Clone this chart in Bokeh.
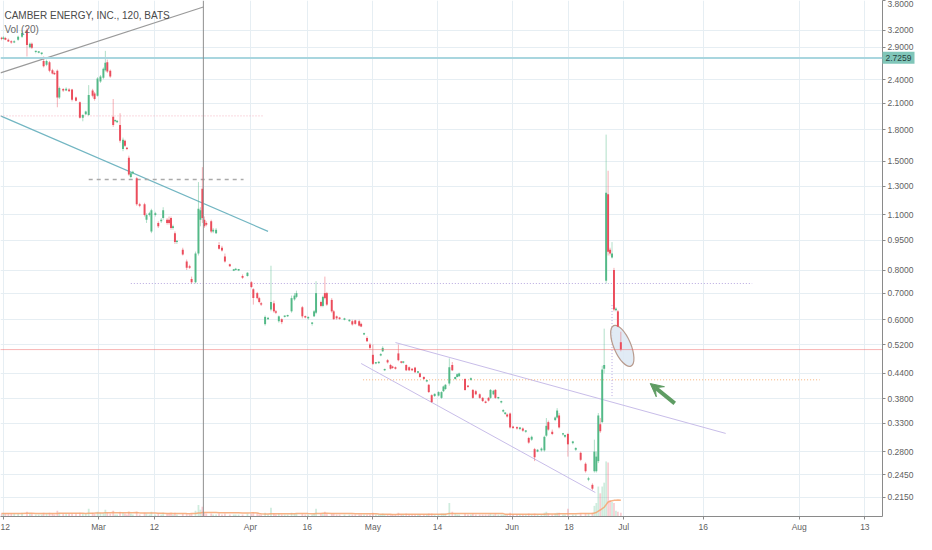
import math
import pandas as pd
from bokeh.plotting import figure
from bokeh.models import (Range1d, FixedTicker, PrintfTickFormatter, Span, Label,
                          Arrow, VeeHead, LinearScale, GridBox)
from bokeh.embed import file_html
from bokeh.resources import INLINE

# ---------------- data (bar time index, OHLC in USD, volume in M shares) -------------
t = [1, 3, 5, 8, 11, 14, 18, 22, 27, 30,
     32, 36, 39, 42, 44, 47, 50, 53, 55, 58,
     60, 64, 67, 70, 73, 77, 81, 84, 87, 90,
     94, 96, 99, 102, 105, 107, 109, 112, 115, 117,
     119, 122, 125, 127, 129, 131, 133, 135, 139, 142,
     147, 149, 152, 154, 158, 161, 164, 166, 170, 172,
     174, 176, 178, 180, 186, 190, 193, 195, 199, 202,
     204, 206, 208, 210, 215, 217, 220, 223, 226, 229,
     234, 238, 240, 243, 247, 252, 256, 258, 262, 264,
     266, 270, 273, 276, 279, 281, 284, 287, 290, 293,
     297, 300, 302, 308, 311, 314, 318, 320, 322, 327,
     329, 331, 333, 338, 340, 343, 346, 351, 356, 359,
     362, 366, 368, 371, 374, 377, 380, 383, 386, 388,
     390, 392, 395, 398, 400, 403, 406, 409, 411, 414,
     417, 420, 423, 426, 428, 432, 435, 437, 440, 443,
     447, 450, 452, 454, 458, 461, 464, 466, 468, 474,
     477, 480, 482, 485, 489, 492, 495, 498, 500, 503,
     505, 508, 511, 513, 515, 517, 520, 523, 527, 530,
     533, 536, 539, 542, 545, 548, 552, 555, 557, 559,
     563, 566, 568, 570, 574, 576, 579, 584, 587, 592,
     597, 600, 604, 606, 608, 610, 612, 614, 616, 618,
     620, 622, 624, 626, 628, 630, 633]

op = [3.05, 3.04, 3.06, 3.03, 3.00, 2.98, 3.03, 3.08, 3.20, 2.90,
      2.96, 2.82, 2.81, 2.79, 2.68, 2.62, 2.66, 2.54, 2.50, 2.53,
      2.17, 2.27, 2.26, 2.27, 2.27, 2.17, 2.11, 1.93, 1.97, 1.96,
      2.26, 2.22, 2.19, 2.38, 2.43, 2.54, 2.66, 2.53, 1.94, 1.89,
      1.88, 1.85, 1.61, 1.69, 1.62, 1.53, 1.37, 1.40, 1.36, 1.17,
      1.17, 1.07, 1.10, 1.00, 1.10, 1.05, 1.06, 1.08, 1.07, 1.07,
      1.08, 1.02, 0.99, 0.94, 0.90, 0.84, 0.818, 0.76, 0.745, 0.88,
      1.07, 1.28, 1.07, 1.05, 1.06, 1.00, 0.99, 0.925, 0.91, 0.865,
      0.827, 0.797, 0.80, 0.798, 0.773, 0.773, 0.745, 0.716, 0.70, 0.68,
      0.66, 0.585, 0.602, 0.637, 0.66, 0.63, 0.595, 0.602, 0.61, 0.612,
      0.63, 0.675, 0.685, 0.645, 0.612, 0.605, 0.586, 0.612, 0.625, 0.665,
      0.65, 0.70, 0.70, 0.673, 0.63, 0.612, 0.607, 0.60, 0.595, 0.595,
      0.598, 0.595, 0.586, 0.551, 0.54, 0.52, 0.49, 0.466, 0.467, 0.488,
      0.50, 0.448, 0.475, 0.462, 0.458, 0.456, 0.494, 0.47, 0.468, 0.462,
      0.456, 0.452, 0.455, 0.442, 0.44, 0.431, 0.42, 0.412, 0.388, 0.386,
      0.387, 0.382, 0.397, 0.402, 0.415, 0.462, 0.426, 0.431, 0.433, 0.426,
      0.408, 0.424, 0.40, 0.397, 0.39, 0.382, 0.374, 0.382, 0.382, 0.39,
      0.40, 0.381, 0.372, 0.353, 0.348, 0.347, 0.349, 0.323, 0.321, 0.319,
      0.32, 0.314, 0.303, 0.30, 0.284, 0.28, 0.282, 0.282, 0.307, 0.332,
      0.314, 0.336, 0.341, 0.345, 0.309, 0.305, 0.31, 0.294, 0.283, 0.278,
      0.261, 0.238, 0.231, 0.25, 0.25, 0.265, 0.328, 0.332, 0.452, 0.752,
      1.24, 0.90, 0.86, 0.80, 0.634, 0.63, 0.527]

hi = [3.08, 3.09, 3.08, 3.05, 3.02, 3.02, 3.10, 3.20, 3.24, 2.98,
      2.98, 2.84, 2.83, 2.81, 2.75, 2.70, 2.68, 2.56, 2.52, 2.55,
      2.31, 2.29, 2.30, 2.29, 2.28, 2.18, 2.12, 1.97, 2.01, 2.33,
      2.28, 2.24, 2.44, 2.47, 2.58, 2.84, 2.70, 2.55, 2.15, 1.91,
      1.90, 1.98, 1.72, 1.70, 1.63, 1.55, 1.41, 1.42, 1.37, 1.18,
      1.18, 1.11, 1.12, 1.14, 1.12, 1.06, 1.08, 1.15, 1.08, 1.09,
      1.09, 1.04, 1.00, 0.95, 0.91, 0.85, 0.825, 0.77, 0.89, 1.33,
      1.15, 1.45, 1.09, 1.06, 1.07, 1.02, 1.02, 0.94, 0.92, 0.88,
      0.83, 0.805, 0.81, 0.805, 0.78, 0.79, 0.75, 0.72, 0.705, 0.685,
      0.665, 0.615, 0.61, 0.82, 0.67, 0.635, 0.615, 0.605, 0.615, 0.618,
      0.69, 0.70, 0.71, 0.65, 0.615, 0.612, 0.592, 0.635, 0.75, 0.67,
      0.69, 0.77, 0.705, 0.68, 0.635, 0.615, 0.61, 0.607, 0.602, 0.60,
      0.60, 0.60, 0.59, 0.557, 0.545, 0.525, 0.52, 0.47, 0.472, 0.495,
      0.515, 0.452, 0.478, 0.465, 0.46, 0.458, 0.52, 0.472, 0.472, 0.464,
      0.458, 0.454, 0.457, 0.446, 0.442, 0.433, 0.424, 0.414, 0.39, 0.392,
      0.397, 0.397, 0.41, 0.414, 0.48, 0.47, 0.432, 0.44, 0.442, 0.428,
      0.41, 0.43, 0.402, 0.40, 0.392, 0.384, 0.376, 0.384, 0.402, 0.40,
      0.402, 0.384, 0.376, 0.358, 0.352, 0.349, 0.351, 0.325, 0.324, 0.323,
      0.322, 0.317, 0.305, 0.307, 0.286, 0.284, 0.287, 0.307, 0.34, 0.335,
      0.318, 0.343, 0.36, 0.35, 0.312, 0.309, 0.312, 0.298, 0.287, 0.28,
      0.263, 0.242, 0.233, 0.30, 0.28, 0.35, 0.34, 0.46, 0.57, 1.75,
      1.42, 0.91, 0.94, 0.81, 0.645, 0.635, 0.56]

lo = [3.02, 3.03, 3.02, 2.99, 2.96, 2.97, 3.01, 3.06, 2.75, 2.88,
      2.87, 2.80, 2.80, 2.77, 2.58, 2.60, 2.51, 2.48, 2.47, 2.05,
      2.15, 2.24, 2.25, 2.24, 2.12, 2.12, 1.92, 1.89, 1.96, 1.95,
      2.17, 2.13, 2.18, 2.36, 2.41, 2.52, 2.50, 2.43, 1.83, 1.88,
      1.87, 1.67, 1.59, 1.63, 1.60, 1.38, 1.36, 1.39, 1.16, 1.15,
      1.09, 1.05, 1.09, 0.99, 1.09, 1.02, 1.05, 1.07, 1.04, 1.04,
      1.01, 1.01, 0.93, 0.93, 0.87, 0.80, 0.805, 0.74, 0.74, 0.87,
      1.03, 1.05, 1.02, 1.03, 0.99, 0.99, 0.985, 0.90, 0.89, 0.835,
      0.815, 0.795, 0.798, 0.795, 0.76, 0.77, 0.72, 0.655, 0.675, 0.66,
      0.65, 0.58, 0.60, 0.63, 0.625, 0.62, 0.59, 0.585, 0.608, 0.61,
      0.625, 0.67, 0.68, 0.605, 0.605, 0.60, 0.58, 0.61, 0.62, 0.645,
      0.645, 0.675, 0.65, 0.625, 0.60, 0.60, 0.60, 0.598, 0.593, 0.58,
      0.583, 0.577, 0.575, 0.549, 0.528, 0.505, 0.462, 0.464, 0.465, 0.486,
      0.498, 0.446, 0.466, 0.45, 0.452, 0.45, 0.472, 0.466, 0.466, 0.446,
      0.446, 0.446, 0.441, 0.44, 0.429, 0.424, 0.418, 0.393, 0.371, 0.384,
      0.385, 0.38, 0.395, 0.40, 0.41, 0.446, 0.424, 0.43, 0.431, 0.398,
      0.405, 0.422, 0.38, 0.388, 0.38, 0.373, 0.37, 0.374, 0.38, 0.388,
      0.38, 0.379, 0.37, 0.351, 0.346, 0.341, 0.32, 0.319, 0.318, 0.317,
      0.314, 0.312, 0.293, 0.298, 0.265, 0.279, 0.28, 0.28, 0.305, 0.316,
      0.308, 0.334, 0.339, 0.32, 0.307, 0.303, 0.272, 0.292, 0.281, 0.265,
      0.248, 0.236, 0.224, 0.248, 0.248, 0.262, 0.312, 0.33, 0.44, 0.74,
      0.87, 0.87, 0.855, 0.63, 0.63, 0.575, 0.50]

cl = [3.04, 3.07, 3.03, 3.00, 2.98, 3.00, 3.08, 3.15, 2.94, 2.96,
      2.89, 2.83, 2.82, 2.80, 2.60, 2.68, 2.53, 2.49, 2.48, 2.17,
      2.29, 2.26, 2.28, 2.25, 2.14, 2.13, 1.93, 1.96, 2.00, 2.20,
      2.19, 2.15, 2.42, 2.45, 2.56, 2.65, 2.52, 2.45, 1.85, 1.90,
      1.89, 1.69, 1.70, 1.64, 1.61, 1.39, 1.40, 1.41, 1.17, 1.16,
      1.10, 1.10, 1.11, 1.13, 1.11, 1.03, 1.07, 1.13, 1.05, 1.05,
      1.02, 1.03, 0.94, 0.945, 0.875, 0.81, 0.81, 0.745, 0.88, 1.14,
      1.13, 1.08, 1.03, 1.04, 1.00, 1.01, 1.01, 0.905, 0.895, 0.84,
      0.818, 0.80, 0.805, 0.80, 0.765, 0.787, 0.725, 0.68, 0.68, 0.665,
      0.655, 0.61, 0.606, 0.665, 0.63, 0.625, 0.612, 0.592, 0.613, 0.615,
      0.68, 0.69, 0.70, 0.612, 0.608, 0.61, 0.59, 0.63, 0.70, 0.65,
      0.685, 0.68, 0.655, 0.63, 0.602, 0.605, 0.603, 0.605, 0.60, 0.584,
      0.586, 0.58, 0.577, 0.555, 0.53, 0.51, 0.465, 0.469, 0.47, 0.492,
      0.51, 0.45, 0.469, 0.452, 0.454, 0.452, 0.475, 0.468, 0.471, 0.448,
      0.448, 0.448, 0.443, 0.445, 0.431, 0.426, 0.422, 0.395, 0.373, 0.391,
      0.395, 0.395, 0.408, 0.412, 0.456, 0.448, 0.431, 0.438, 0.44, 0.40,
      0.407, 0.428, 0.382, 0.39, 0.382, 0.375, 0.371, 0.376, 0.40, 0.398,
      0.382, 0.383, 0.375, 0.356, 0.351, 0.343, 0.322, 0.321, 0.32, 0.322,
      0.316, 0.316, 0.295, 0.305, 0.271, 0.283, 0.285, 0.305, 0.325, 0.318,
      0.31, 0.341, 0.355, 0.322, 0.311, 0.308, 0.292, 0.297, 0.286, 0.267,
      0.25, 0.24, 0.226, 0.28, 0.272, 0.345, 0.315, 0.45, 0.462, 1.25,
      0.889, 0.88, 0.88, 0.637, 0.64, 0.577, 0.505]

vol = [0.3, 0.3, 0.3, 0.3, 0.3, 0.3, 0.3, 0.4, 0.5, 0.3,
       0.3, 0.2, 0.2, 0.2, 0.4, 0.3, 0.4, 0.3, 0.2, 0.6,
       0.4, 0.3, 0.3, 0.3, 0.3, 0.3, 0.4, 0.3, 0.3, 0.8,
       0.4, 0.3, 0.5, 0.4, 0.4, 0.7, 0.4, 0.3, 0.6, 0.2,
       0.2, 0.5, 0.4, 0.3, 0.2, 0.5, 0.3, 0.2, 0.5, 0.2,
       0.4, 0.3, 0.2, 0.5, 0.2, 0.3, 0.2, 0.4, 0.3, 0.3,
       0.3, 0.2, 0.4, 0.2, 0.3, 0.3, 0.2, 0.3, 0.6, 1.2,
       0.7, 1.0, 0.4, 0.3, 0.3, 0.2, 0.2, 0.3, 0.2, 0.3,
       0.2, 0.2, 0.2, 0.2, 0.2, 0.3, 0.3, 0.4, 0.3, 0.2,
       0.2, 0.4, 0.2, 0.9, 0.3, 0.2, 0.3, 0.2, 0.2, 0.2,
       0.4, 0.3, 0.3, 0.3, 0.2, 0.2, 0.2, 0.3, 0.8, 0.3,
       0.3, 0.5, 0.3, 0.3, 0.3, 0.2, 0.2, 0.2, 0.2, 0.2,
       0.2, 0.2, 0.2, 0.2, 0.2, 0.2, 0.4, 0.2, 0.2, 0.2,
       0.3, 0.2, 0.2, 0.2, 0.2, 0.2, 0.4, 0.2, 0.2, 0.3,
       0.2, 0.2, 0.2, 0.2, 0.2, 0.2, 0.2, 0.3, 0.3, 0.2,
       0.2, 0.3, 0.3, 0.3, 1.4, 0.5, 0.3, 0.2, 0.2, 0.3,
       0.2, 0.2, 0.3, 0.2, 0.2, 0.2, 0.2, 0.2, 0.3, 0.2,
       0.3, 0.2, 0.2, 0.2, 0.2, 0.2, 0.4, 0.2, 0.2, 0.2,
       0.2, 0.2, 0.3, 0.2, 0.3, 0.2, 0.2, 0.4, 0.5, 0.3,
       0.2, 0.3, 0.4, 0.4, 0.2, 0.2, 0.8, 0.2, 0.2, 0.3,
       0.3, 0.3, 0.4, 1.1, 1.4, 3.1, 2.4, 3.1, 3.5, 5.7,
       5.6, 1.7, 1.5, 1.4, 0.6, 0.5, 0.4]

# axis ticks
x_tick_pos = [3, 100, 157, 255, 313, 380, 446, 522, 580, 636, 717, 815, 882]
x_tick_lbl = ["12", "Mar", "12", "Apr", "16", "May", "14", "Jun", "18", "Jul", "16", "Aug", "13"]
y_ticks = [0.215, 0.245, 0.28, 0.33, 0.38, 0.44, 0.52, 0.60, 0.70, 0.80, 0.95,
           1.10, 1.30, 1.50, 1.80, 2.10, 2.40, 2.90, 3.20, 3.80]

# drawings (time index, price)
last_price = 2.7259
red_level = 0.505
vline_t = 207
gray_diag_t, gray_diag_p = [0, 207], [2.50, 3.66]
teal_diag_t, teal_diag_p = [0, 273], [1.95, 1.00]
upper_ch_t, upper_ch_p = [403, 740], [0.526, 0.311]
lower_ch_t, lower_ch_p = [368, 607], [0.466, 0.221]
pink_lvl = (0, 268, 1.95)
gray_lvl = (90, 248, 1.35)
lav_lvl = (133, 767, 0.74)
orange_lvl = (370, 836, 0.424)
small_v = (624, 0.386, 0.66)
ell_t, ell_p = 634.5, 0.516
arrow_from = (688, 0.370)
arrow_to = (663, 0.415)

n = len(t)
assert all(len(a) == n for a in (op, hi, lo, cl, vol)), [len(a) for a in (op, hi, lo, cl, vol)]

UP, DN = "#53b987", "#eb4d5c"
colors = [UP if c >= o else DN for o, c in zip(op, cl)]
body_bot = [min(o, c) for o, c in zip(op, cl)]
body_top = [max(max(o, c), min(o, c) * 1.008) for o, c in zip(op, cl)]
vol_ma = pd.Series(vol).rolling(20, min_periods=1).mean().tolist()

FONT = "Liberation Sans"
W, H = 916, 534
XAXIS_H = 20          # approx. height taken by the date axis
Y_LO, Y_HI = 0.1924, 3.80
p = figure(width=W, height=H, x_range=Range1d(0, 900), y_range=Range1d(Y_LO, Y_HI),
           y_axis_type="log", y_axis_location="right",
           output_backend="svg", toolbar_location=None,
           min_border_left=0, min_border_top=0, min_border_right=0, min_border_bottom=0)
p.outline_line_color = None
p.background_fill_color = "white"
p.border_fill_color = "white"
p.frame_align = False

p.extra_y_ranges = {"vol": Range1d(0, 53.4)}
p.extra_y_scales = {"vol": LinearScale()}

# axes
p.yaxis.ticker = FixedTicker(ticks=y_ticks)
p.yaxis.formatter = PrintfTickFormatter(format="%.4f")
p.xaxis.ticker = FixedTicker(ticks=x_tick_pos)
p.xaxis.major_label_overrides = {k: v for k, v in zip(x_tick_pos, x_tick_lbl)}
for ax in (p.xaxis, p.yaxis):
    ax.axis_line_color = "#8a8a8a"
    ax.major_tick_line_color = "#8a8a8a"
    ax.major_tick_in = 0
    ax.major_tick_out = 3
    ax.minor_tick_line_color = None
    ax.major_label_text_font = FONT
    ax.major_label_text_font_size = "8.5px"
    ax.major_label_text_color = "#5f5f5f"
    ax.major_label_standoff = 2
p.xgrid.grid_line_color = "#e6eef3"
p.ygrid.grid_line_color = "#e6eef3"

# volume
p.vbar(x=t, top=vol, bottom=0, width=1.8, y_range_name="vol",
       fill_color=colors, line_color=None, fill_alpha=0.28)
p.line(t, vol_ma, y_range_name="vol", line_color="#f7a46e", line_width=1.5, line_alpha=0.85)

# drawings (under candles)
p.add_layout(Span(location=last_price, dimension="width", line_color="#a9d6df", line_width=2))
p.add_layout(Span(location=red_level, dimension="width", line_color="#f06a6a",
                  line_width=1, line_dash="1 1"))
p.add_layout(Span(location=vline_t, dimension="height", line_color="#8f8f8f", line_width=1))
p.line(gray_diag_t, gray_diag_p, line_color="#9a9a9a", line_width=1.2)
p.line(teal_diag_t, teal_diag_p, line_color="#72b6c2", line_width=1.2)
p.line(upper_ch_t, upper_ch_p, line_color="#c8bde9", line_width=1)
p.line(lower_ch_t, lower_ch_p, line_color="#c8bde9", line_width=1)
p.line([pink_lvl[0], pink_lvl[1]], [pink_lvl[2]] * 2, line_color="#f3b3c1", line_width=1, line_dash="1 2")
p.line([gray_lvl[0], gray_lvl[1]], [gray_lvl[2]] * 2, line_color="#aaaaaa", line_width=1.5, line_dash="4 4")
p.line([lav_lvl[0], lav_lvl[1]], [lav_lvl[2]] * 2, line_color="#b7a8e0", line_width=1, line_dash="1 2")
p.line([orange_lvl[0], orange_lvl[1]], [orange_lvl[2]] * 2, line_color="#f7b27a", line_width=1, line_dash="1 2")
p.line([small_v[0], small_v[0]], [small_v[1], small_v[2]], line_color="#b7a8e0", line_width=1, line_dash="1 2")
p.ellipse(x=[ell_t], y=[ell_p], width=[44], height=[17], angle=-1.17,
          width_units="screen", height_units="screen",
          fill_color="#dce8f3", fill_alpha=0.85, line_color="#b89b8e", line_width=1.2)

# candles
p.segment(x0=t, y0=lo, x1=t, y1=hi, line_color=colors, line_alpha=0.45, line_width=1)
p.vbar(x=t, top=body_top, bottom=body_bot, width=2.0, fill_color=colors, line_color=None)

# arrow
G = "#5e9c63"
p.add_layout(Arrow(end=VeeHead(size=13, fill_color=G, line_color=G),
                   x_start=arrow_from[0], y_start=arrow_from[1],
                   x_end=arrow_to[0], y_end=arrow_to[1],
                   line_color=G, line_width=4))

# texts
p.add_layout(Label(x=4, y=3.48, text="CAMBER ENERGY, INC., 120, BATS", text_font=FONT,
                   text_font_size="10px", text_color="#4a4a4a", text_baseline="middle"))
p.add_layout(Label(x=4, y=3.22, text="Vol (20)", text_font=FONT,
                   text_font_size="10px", text_color="#6a6a6a", text_baseline="middle"))

# transparent overlay of identical size carrying the last-price tag on the price axis
ov = figure(width=W, height=H, x_range=Range1d(0, W), y_range=Range1d(H, 0),
            x_axis_type=None, y_axis_type=None, output_backend="svg", toolbar_location=None,
            min_border_left=0, min_border_top=0, min_border_right=0, min_border_bottom=0)
ov.outline_line_color = None
ov.background_fill_alpha = 0
ov.border_fill_alpha = 0
ov.frame_align = False
frame_h = H - XAXIS_H
tag_top = frame_h * math.log(Y_HI / last_price) / math.log(Y_HI / Y_LO)
ov.add_layout(Label(x=W - 2, y=tag_top, text=f"{last_price:.4f}", text_font=FONT, padding=3,
                    text_font_size="8.5px", text_color="#24403c", text_baseline="middle",
                    text_align="right", background_fill_color="#80c6b9"))

root = GridBox(children=[(p, 0, 0), (ov, 0, 0)])
open("out.html", "w").write(file_html(root, INLINE))
